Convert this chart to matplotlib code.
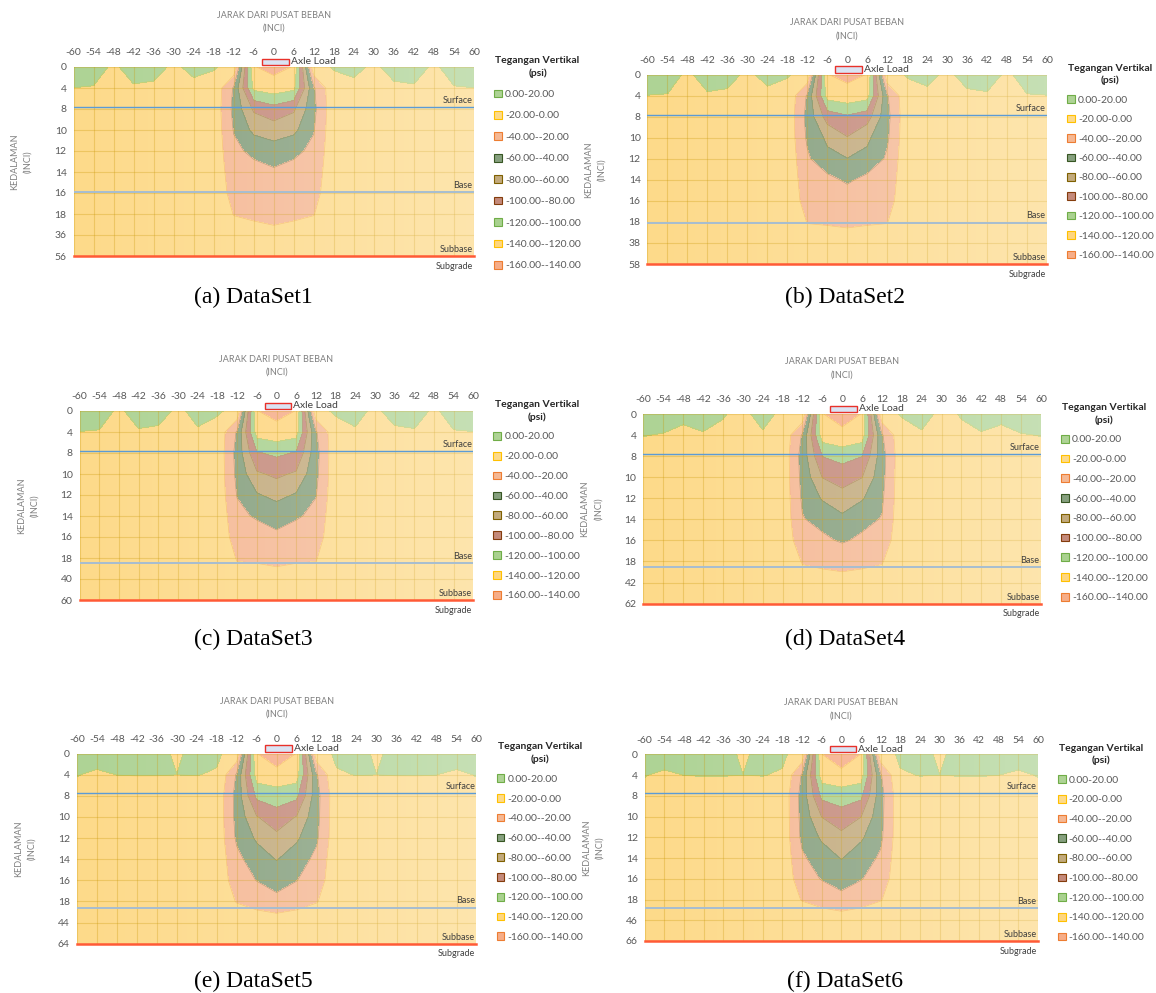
import numpy as np
import matplotlib.pyplot as plt
import matplotlib.transforms as mtrans
from matplotlib.patches import Patch, Rectangle
from matplotlib.colors import LinearSegmentedColormap

plt.rcParams['font.family'] = ['Lato', 'DejaVu Sans']

W, H = 1156, 993

# jarak dari pusat beban (inci)
offsets = [-60, -54, -48, -42, -36, -30, -24, -18, -12, -6, 0,
           6, 12, 18, 24, 30, 36, 42, 48, 54, 60]

# kedalaman (inci) untuk tiap dataset
depth_a = [0, 4, 8, 10, 12, 14, 16, 18, 36, 56]
depth_b = [0, 4, 8, 10, 12, 14, 16, 18, 38, 58]
depth_c = [0, 4, 8, 10, 12, 14, 16, 18, 40, 60]
depth_d = [0, 4, 8, 10, 12, 14, 16, 18, 42, 62]
depth_e = [0, 4, 8, 10, 12, 14, 16, 18, 44, 64]
depth_f = [0, 4, 8, 10, 12, 14, 16, 18, 46, 66]

# tegangan vertikal (psi), baris = kedalaman, kolom = offset
stress_a = [
    [8, 5, -2, 5, 4, -2, 3, 1, -5, -139, -146, -139, -5, 1, 3, -2, 4, 5, -2, 5, 8],
    [-0.1, -0.6, -1.2, -1.2, -2, -3, -3, -5, -42, -125, -131, -125, -42, -5, -3, -3, -2, -1.2, -1.2, -0.6, -0.1],
    [-4, -4, -4.5, -4.5, -5, -5, -5.5, -6, -45, -83, -93, -83, -45, -6, -5.5, -5, -5, -4.5, -4.5, -4, -4],
    [-4.5, -4.5, -5, -5, -5, -5.5, -5.5, -6, -41, -65, -70, -65, -41, -6, -5.5, -5.5, -5, -5, -5, -4.5, -4.5],
    [-4.5, -4.5, -5, -5, -5, -5.5, -5.5, -6, -36, -44, -51, -44, -36, -6, -5.5, -5.5, -5, -5, -5, -4.5, -4.5],
    [-4.5, -4.5, -5, -5, -5, -5.5, -5.5, -6, -31, -34, -37, -34, -31, -6, -5.5, -5.5, -5, -5, -5, -4.5, -4.5],
    [-4.5, -4.5, -5, -5, -5, -5.5, -5.5, -6, -27, -28, -30, -28, -27, -6, -5.5, -5.5, -5, -5, -5, -4.5, -4.5],
    [-5, -5, -5, -5.5, -5.5, -6, -6, -8, -20.5, -22, -23.5, -22, -20.5, -8, -6, -6, -5.5, -5.5, -5, -5, -5],
    [-4, -4, -4, -4.5, -4.5, -5, -5, -7, -14, -16, -17, -16, -14, -7, -5, -5, -4.5, -4.5, -4, -4, -4],
    [-3, -3, -3, -3.5, -3.5, -4, -4, -6, -10, -11, -12, -11, -10, -6, -4, -4, -3.5, -3.5, -3, -3, -3],
]
stress_b = [
    [8, 5, -2, 5, 3.5, -2, 3, 1, -5, -139.5, -145, -139.5, -5, 1, 3, -2, 3.5, 5, -2, 5, 8],
    [-0.2, -0.5, -1, -1.2, -1.8, -3, -2.5, -5, -42, -128, -133, -128, -42, -5, -2.5, -3, -1.8, -1.2, -1, -0.5, -0.2],
    [-4, -4, -4.5, -4.5, -5, -5, -5.5, -6, -46, -89, -97.5, -89, -46, -6, -5.5, -5, -5, -4.5, -4.5, -4, -4],
    [-4.5, -4.5, -5, -5, -5, -5.5, -5.5, -6, -43, -64, -79, -64, -43, -6, -5.5, -5.5, -5, -5, -5, -4.5, -4.5],
    [-4.5, -4.5, -5, -5, -5, -5.5, -5.5, -6, -37, -54.5, -59.5, -54.5, -37, -6, -5.5, -5.5, -5, -5, -5, -4.5, -4.5],
    [-4.5, -4.5, -5, -5, -5, -5.5, -5.5, -6, -32, -34, -43.5, -34, -32, -6, -5.5, -5.5, -5, -5, -5, -4.5, -4.5],
    [-4.5, -4.5, -5, -5, -5, -5.5, -5.5, -6, -28, -27, -27, -27, -28, -6, -5.5, -5.5, -5, -5, -5, -4.5, -4.5],
    [-5, -5, -5, -5.5, -5.5, -6, -6, -8, -20.5, -21, -22, -21, -20.5, -8, -6, -6, -5.5, -5.5, -5, -5, -5],
    [-4, -4, -4, -4.5, -4.5, -5, -5, -7, -14, -15, -15, -15, -14, -7, -5, -5, -4.5, -4.5, -4, -4, -4],
    [-3, -3, -3, -3.5, -3.5, -4, -4, -6, -10, -11, -11, -11, -10, -6, -4, -4, -3.5, -3.5, -3, -3, -3],
]
stress_c = [
    [8, 5, -2, 5, 4, -2, 3, 2, -5, -139.5, -146, -139.5, -5, 2, 3, -2, 4, 5, -2, 5, 8],
    [-0.2, -0.6, -1, -1, -1.8, -2, -1, -6, -42, -129, -133.6, -129, -42, -6, -1, -2, -1.8, -1, -1, -0.6, -0.2],
    [-4, -4, -4.5, -4.5, -5, -5, -5.5, -6, -47, -98.5, -104, -98.5, -47, -6, -5.5, -5, -5, -4.5, -4.5, -4, -4],
    [-4.5, -4.5, -5, -5, -5, -5.5, -5.5, -6, -45, -77, -84, -77, -45, -6, -5.5, -5.5, -5, -5, -5, -4.5, -4.5],
    [-4.5, -4.5, -5, -5, -5, -5.5, -5.5, -6, -41, -58, -66, -58, -41, -6, -5.5, -5.5, -5, -5, -5, -4.5, -4.5],
    [-4.5, -4.5, -5, -5, -5, -5.5, -5.5, -6, -34, -43, -47, -43, -34, -6, -5.5, -5.5, -5, -5, -5, -4.5, -4.5],
    [-4.5, -4.5, -5, -5, -5, -5.5, -5.5, -6, -29, -27.6, -36.4, -27.6, -29, -6, -5.5, -5.5, -5, -5, -5, -4.5, -4.5],
    [-5, -5, -5, -5.5, -5.5, -6, -6, -8, -21, -21.5, -22.5, -21.5, -21, -8, -6, -6, -5.5, -5.5, -5, -5, -5],
    [-4, -4, -4, -4.5, -4.5, -5, -5, -7, -15, -15.5, -16.5, -15.5, -15, -7, -5, -5, -4.5, -4.5, -4, -4, -4],
    [-3, -3, -3, -3.5, -3.5, -4, -4, -6, -10, -11, -12, -11, -10, -6, -4, -4, -3.5, -3.5, -3, -3, -3],
]
stress_d = [
    [8, 5, 1, 5, 0.5, -2, 3, -2, -5, -139.5, -146.4, -139.5, -5, 1, 3, -2, 0.5, 5, 1, 5, 8],
    [0.3, -0.5, -1, -1, -1.5, -2, -1, -5, -42, -130.8, -135.9, -130.8, -42, -5, -1, -2, -1.5, -1, -1, -0.5, 0.3],
    [-4, -4, -4.5, -4.5, -5, -5, -5.5, -6, -48, -100.5, -108, -100.5, -48, -6, -5.5, -5, -5, -4.5, -4.5, -4, -4],
    [-4.5, -4.5, -5, -5, -5, -5.5, -5.5, -6, -46, -80.5, -87, -80.5, -46, -6, -5.5, -5.5, -5, -5, -5, -4.5, -4.5],
    [-4.5, -4.5, -5, -5, -5, -5.5, -5.5, -6, -43, -62, -73.5, -62, -43, -6, -5.5, -5.5, -5, -5, -5, -4.5, -4.5],
    [-4.5, -4.5, -5, -5, -5, -5.5, -5.5, -6, -39, -45, -54.75, -45, -39, -6, -5.5, -5.5, -5, -5, -5, -4.5, -4.5],
    [-4.5, -4.5, -5, -5, -5, -5.5, -5.5, -6, -32, -36.7, -42, -36.7, -32, -6, -5.5, -5.5, -5, -5, -5, -4.5, -4.5],
    [-5, -5, -5, -5.5, -5.5, -6, -6, -8, -21, -22.5, -26.6, -22.5, -21, -8, -6, -6, -5.5, -5.5, -5, -5, -5],
    [-4, -4, -4, -4.5, -4.5, -5, -5, -7, -14, -15.4, -13.1, -15.4, -14, -7, -5, -5, -4.5, -4.5, -4, -4, -4],
    [-3, -3, -3, -3.5, -3.5, -4, -4, -6, -10, -11, -10, -11, -10, -6, -4, -4, -3.5, -3.5, -3, -3, -3],
]
stress_e = [
    [8, 6, 6, 6, 4, -2, 4, 2, -6, -139.5, -154, -139.5, -6, 2, 4, -2, 4, 6, 6, 6, 8],
    [0.5, -2, 0.1, 0.3, 0.3, 0.05, 0.3, -1, -42, -130, -132.2, -130, -42, -1, 0.3, 0.05, 0.3, 0.3, 0.1, -2, 0.5],
    [-4, -4, -4.5, -4.5, -5, -5, -5.5, -6, -47, -105, -111.5, -105, -47, -6, -5.5, -5, -5, -4.5, -4.5, -4, -4],
    [-4.5, -4.5, -5, -5, -5, -5.5, -5.5, -6, -46, -79, -90.6, -79, -46, -6, -5.5, -5.5, -5, -5, -5, -4.5, -4.5],
    [-4.5, -4.5, -5, -5, -5, -5.5, -5.5, -6, -43, -63, -75.2, -63, -43, -6, -5.5, -5.5, -5, -5, -5, -4.5, -4.5],
    [-4.5, -4.5, -5, -5, -5, -5.5, -5.5, -6, -35, -50, -61, -50, -35, -6, -5.5, -5.5, -5, -5, -5, -4.5, -4.5],
    [-4.5, -4.5, -5, -5, -5, -5.5, -5.5, -6, -30, -40.5, -46, -40.5, -30, -6, -5.5, -5.5, -5, -5, -5, -4.5, -4.5],
    [-5, -5, -5, -5.5, -5.5, -6, -6, -8, -21, -28, -35.7, -28, -21, -8, -6, -6, -5.5, -5.5, -5, -5, -5],
    [-3, -3, -3, -3.5, -3.5, -4, -4, -5, -8, -8, -7.7, -8, -8, -5, -4, -4, -3.5, -3.5, -3, -3, -3],
    [-2.5, -2.5, -2.5, -3, -3, -3.5, -3.5, -4, -6, -6, -6, -6, -6, -4, -3.5, -3.5, -3, -3, -2.5, -2.5, -2.5],
]
stress_f = [
    [8, 6, 6, 6, 4, -2, 4, 2, -6, -139.5, -157, -139.5, -6, 2, 4, -2, 4, 6, 6, 6, 8],
    [0.5, -2, 0.1, 0.3, 0.3, 0.05, 0.3, -1, -42, -130, -132, -130, -42, -1, 0.3, 0.05, 0.3, 0.3, 0.1, -2, 0.5],
    [-4, -4, -4.5, -4.5, -5, -5, -5.5, -6, -47, -105, -111.5, -105, -47, -6, -5.5, -5, -5, -4.5, -4.5, -4, -4],
    [-4.5, -4.5, -5, -5, -5, -5.5, -5.5, -6, -46, -80.5, -90.5, -80.5, -46, -6, -5.5, -5.5, -5, -5, -5, -4.5, -4.5],
    [-4.5, -4.5, -5, -5, -5, -5.5, -5.5, -6, -44, -63, -75, -63, -44, -6, -5.5, -5.5, -5, -5, -5, -4.5, -4.5],
    [-4.5, -4.5, -5, -5, -5, -5.5, -5.5, -6, -37, -50, -61, -50, -37, -6, -5.5, -5.5, -5, -5, -5, -4.5, -4.5],
    [-4.5, -4.5, -5, -5, -5, -5.5, -5.5, -6, -31, -41, -46, -41, -31, -6, -5.5, -5.5, -5, -5, -5, -4.5, -4.5],
    [-5, -5, -5, -5.5, -5.5, -6, -6, -8, -21, -28, -35.7, -28, -21, -8, -6, -6, -5.5, -5.5, -5, -5, -5],
    [-3, -3, -3, -3.5, -3.5, -4, -4, -5, -8, -8, -8, -8, -8, -5, -4, -4, -3.5, -3.5, -3, -3, -3],
    [-2.5, -2.5, -2.5, -3, -3, -3.5, -3.5, -4, -6, -6, -6, -6, -6, -4, -3.5, -3.5, -3, -3, -2.5, -2.5, -2.5],
]

# posisi batas lapisan (indeks kategori kedalaman)
surface_row = [1.9, 1.91, 1.91, 1.92, 1.88, 1.88]
base_row = [5.95, 7.03, 7.23, 7.26, 7.29, 7.43]

captions = ['(a) DataSet1', '(b) DataSet2', '(c) DataSet3',
            '(d) DataSet4', '(e) DataSet5', '(f) DataSet6']

levels = [-160, -140, -120, -100, -80, -60, -40, -20, 0, 20]
# warna pita dari -160 ke 20
fill_colors = ['#F6AD88', '#FED67F', '#A9D18F', '#C48A7B', '#C2AA7C',
               '#86A07E', '#F5B894', '#FDDA8A', '#AED395']
edge_colors = ['#ED7D31', '#FFC000', '#70AD47', '#843C0C', '#7F6000',
               '#375623', '#ED7D31', '#FFC000', '#70AD47']

legend_labels = ['0.00-20.00', '-20.00-0.00', '-40.00--20.00', '-60.00--40.00',
                 '-80.00--60.00', '-100.00--80.00', '-120.00--100.00',
                 '-140.00--120.00', '-160.00--140.00']

# kotak plot (kiri, atas, kanan, bawah) dalam piksel
rects = [(73.5, 67, 474, 256), (647.5, 74.6, 1047, 264),
         (79.5, 411, 473.5, 600), (643.4, 414, 1041, 603.6),
         (76.8, 753.5, 476.5, 943.7), (644.7, 754.3, 1038, 941)]
cap_pos = [(253, 297), (845, 297), (253, 639), (845, 639), (253, 981), (845, 981)]
lab_space = [1.15, 0.96, 1.0, 0.99, 0.99, 0.98]

fade = LinearSegmentedColormap.from_list('fade', [(1, 1, 1, 0), (1, 1, 1, 0.3)])

fig = plt.figure(figsize=(W / 100, H / 100), dpi=100)

stresses = [stress_a, stress_b, stress_c, stress_d, stress_e, stress_f]
depths = [depth_a, depth_b, depth_c, depth_d, depth_e, depth_f]

for k in range(6):
    L, T, R, B = rects[k]
    ax = fig.add_axes([L / W, 1 - B / H, (R - L) / W, (B - T) / H])
    z = np.array(stresses[k])
    xs = np.arange(len(offsets))
    ys = np.arange(len(depths[k]))

    ax.contourf(xs, ys, z, levels=levels, colors=fill_colors, zorder=1)
    ax.contour(xs, ys, z, levels=levels[1:-1], colors=edge_colors[:-1],
               linewidths=0.5, alpha=0.35, zorder=1.5)
    ax.imshow(np.linspace(0, 1, 256)[None, :], cmap=fade, aspect='auto',
              extent=(xs[0], xs[-1], ys[-1], ys[0]), zorder=3)

    ax.set_xlim(xs[0], xs[-1])
    ax.set_ylim(ys[-1], ys[0])
    ax.set_xticks(xs)
    ax.set_xticklabels([str(v) for v in offsets])
    ax.set_yticks(ys)
    ax.set_yticklabels([str(d) for d in depths[k]])
    ax.xaxis.tick_top()
    ax.tick_params(axis='x', length=0, labelsize=7.5, labelcolor='#595959', pad=7)
    ax.tick_params(axis='y', length=0, labelsize=7.5, labelcolor='#595959', pad=5)
    for s in ax.spines.values():
        s.set_visible(False)
    ax.set_axisbelow(False)
    ax.grid(True, color='#C89600', alpha=0.3, lw=0.8)

    # batas lapisan
    ax.axhline(surface_row[k], color='#5B9BD5', lw=1.0, zorder=4)
    ax.axhline(base_row[k], color='#A6BDD1', lw=1.4, zorder=4)
    ax.axhline(ys[-1], color='#FF5A36', lw=1.8, zorder=4, clip_on=False)
    tr = ax.get_yaxis_transform()
    for name, yy in [('Surface', surface_row[k]), ('Base', base_row[k]),
                     ('Subbase', ys[-1])]:
        ax.annotate(name, xy=(1.0, yy), xycoords=tr, xytext=(-1, 1.5),
                    textcoords='offset points', ha='right', va='bottom',
                    fontsize=6.5, color='#404040', zorder=5)
    ax.annotate('Subgrade', xy=(1.0, ys[-1]), xycoords=tr, xytext=(-1, -4),
                textcoords='offset points', ha='right', va='top',
                fontsize=6.5, color='#404040', annotation_clip=False)

    # beban gandar
    bt = mtrans.blended_transform_factory(ax.transData, ax.transAxes)
    ax.add_patch(Rectangle((9.4, 1.01), 1.35, 0.033, transform=bt,
                           facecolor='#DAE3F3', edgecolor='#E8312A', lw=1.0,
                           clip_on=False, zorder=5))
    ax.text(10.85, 1.027, 'Axle Load', transform=bt, ha='left', va='center',
            fontsize=7.5, color='#404040')

    ax.text(0.5, 1.24, 'JARAK DARI PUSAT BEBAN\n(INCI)', transform=ax.transAxes,
            ha='center', va='center', fontsize=6.5, color='#7F7F7F',
            linespacing=1.6)
    ax.text(-0.13, 0.5, 'KEDALAMAN\n(INCI)', transform=ax.transAxes,
            rotation=90, ha='center', va='center', fontsize=6.5,
            color='#7F7F7F', linespacing=1.6, multialignment='center')

    handles = [Patch(facecolor=fill_colors[i], edgecolor=edge_colors[i], lw=0.8)
               for i in range(len(fill_colors) - 1, -1, -1)]
    leg = ax.legend(handles, legend_labels, loc='upper left',
                    bbox_to_anchor=(1.04, 1.08), frameon=False, fontsize=7.5,
                    labelcolor='#595959', title='Tegangan Vertikal\n(psi)',
                    title_fontproperties={'weight': 'bold', 'size': 7.5},
                    handlelength=0.75, handleheight=0.75, handletextpad=0.3,
                    labelspacing=lab_space[k], borderaxespad=0)
    leg.get_title().set_multialignment('center')
    leg.get_title().set_color('#262626')
    leg.get_title().set_linespacing(1.4)

    cx, cy = cap_pos[k]
    fig.text(cx / W, 1 - cy / H, captions[k], family='Liberation Serif',
             fontsize=17, ha='center', va='center', color='black')

fig.savefig('out.png', dpi=100)
